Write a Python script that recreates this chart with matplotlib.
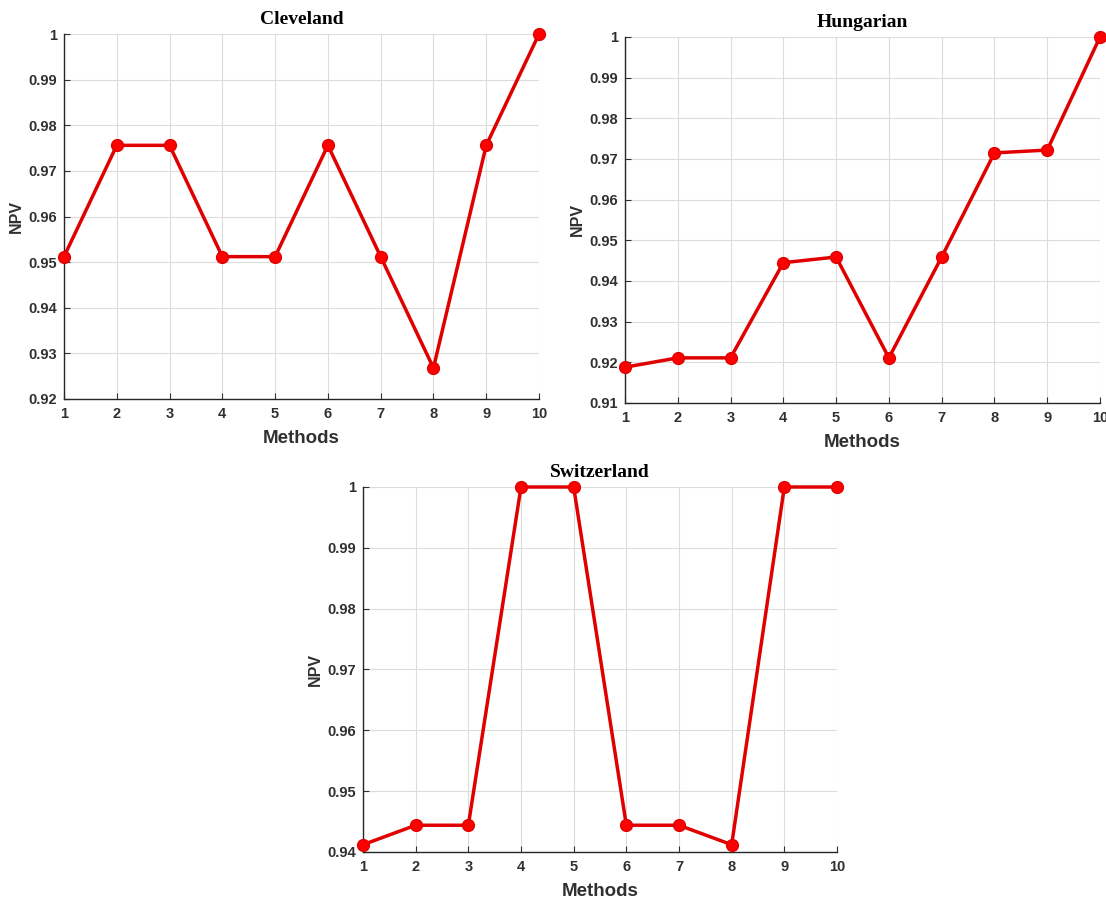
import matplotlib
matplotlib.use("Agg")
import matplotlib.pyplot as plt
from matplotlib.font_manager import FontProperties
from matplotlib.ticker import FuncFormatter, MultipleLocator

# NPV of each method on the three heart-disease datasets
methods = [1, 2, 3, 4, 5, 6, 7, 8, 9, 10]
npv_cleveland = [0.9512, 0.9756, 0.9756, 0.9512, 0.9512, 0.9756, 0.9512, 0.9268, 0.9756, 1.0]
npv_hungarian = [0.9188, 0.9211, 0.9211, 0.9445, 0.9459, 0.9211, 0.9459, 0.9715, 0.9722, 1.0]
npv_switzerland = [0.9412, 0.9444, 0.9444, 1.0, 1.0, 0.9444, 0.9444, 0.9412, 1.0, 1.0]

W, H = 1106, 899
fig = plt.figure(figsize=(W / 100, H / 100), dpi=100)
fig.patch.set_facecolor("white")


def px_axes(left, top, right, bottom):
    return fig.add_axes([left / W, 1 - bottom / H, (right - left) / W, (bottom - top) / H])


panels = [
    ("Cleveland", npv_cleveland, (64, 34, 539, 399), (0.92, 1.0)),
    ("Hungarian", npv_hungarian, (625, 37, 1100, 403), (0.91, 1.0)),
    ("Switzerland", npv_switzerland, (363, 487, 837, 852), (0.94, 1.0)),
]

tick_font = FontProperties(family="Liberation Sans", weight="bold", size=10.5)
text_color = "#303030"

for title, values, box, ylim in panels:
    ax = px_axes(*box)
    ax.plot(methods, values, color="#e00000", lw=2.5, marker="o", ms=8.5,
            mfc="#ff0000", mec="#e00000", clip_on=False, zorder=3)
    ax.set_xlim(1, 10)
    ax.set_ylim(*ylim)
    ax.xaxis.set_major_locator(MultipleLocator(1))
    ax.yaxis.set_major_locator(MultipleLocator(0.01))
    ax.yaxis.set_major_formatter(FuncFormatter(lambda v, p: f"{v:.2f}".rstrip("0").rstrip(".")))
    ax.grid(True, color="#dcdcdc", lw=0.8)
    ax.set_axisbelow(True)
    for s in ("top", "right"):
        ax.spines[s].set_visible(False)
    for s in ("left", "bottom"):
        ax.spines[s].set_color("#262626")
        ax.spines[s].set_linewidth(1.0)
    ax.tick_params(direction="in", length=4, width=0.8, colors=text_color)
    ax.tick_params(axis="x", pad=6)
    ax.tick_params(axis="y", pad=5)
    for lbl in ax.get_xticklabels() + ax.get_yticklabels():
        lbl.set_fontproperties(tick_font)
        lbl.set_color(text_color)
    ax.set_xlabel("Methods", fontfamily="Liberation Sans", fontweight="bold",
                  fontsize=13.5, color=text_color, labelpad=6)
    ax.set_ylabel("NPV", fontfamily="Liberation Sans", fontweight="bold",
                  fontsize=11.5, color=text_color, labelpad=3)
    ax.set_title(title, fontfamily="Liberation Serif", fontweight="bold",
                 fontsize=14, color="black", pad=7)

fig.savefig("out.png", dpi=100, facecolor="white")
